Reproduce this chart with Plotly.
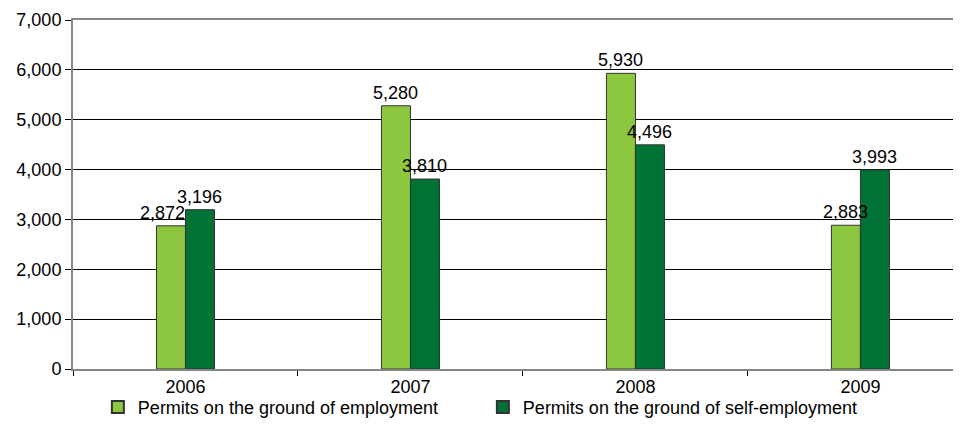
import plotly.graph_objects as go

years = ["2006", "2007", "2008", "2009"]
employment = [2872, 5280, 5930, 2883]
self_employment = [3196, 3810, 4496, 3993]
series_names = ["Permits on the ground of employment", "Permits on the ground of self-employment"]
y_ticks = [0, 1000, 2000, 3000, 4000, 5000, 6000, 7000]

font_family = "Liberation Sans, Arial, sans-serif"
fs = 18
half_bar_px = 14.5

fig = go.Figure()
fig.add_trace(go.Bar(
    x=years, y=employment, name=series_names[0],
    marker=dict(color="#8DC63F", line=dict(color="#333333", width=1)),
))
fig.add_trace(go.Bar(
    x=years, y=self_employment, name=series_names[1],
    marker=dict(color="#007236", line=dict(color="#333333", width=1)),
))

annotations = []
for i, (a, b) in enumerate(zip(employment, self_employment)):
    crowded = b > a and (b - a) < 600
    annotations.append(dict(
        x=i, y=a, xref="x", yref="y", text=f"{a:,}", showarrow=False,
        xanchor="right" if crowded else "center", yanchor="bottom",
        xshift=2 if crowded else -half_bar_px, yshift=1,
        font=dict(size=fs, color="black", family=font_family),
    ))
    annotations.append(dict(
        x=i, y=b, xref="x", yref="y", text=f"{b:,}", showarrow=False,
        xanchor="center", yanchor="bottom", xshift=half_bar_px, yshift=1,
        font=dict(size=fs, color="black", family=font_family),
    ))

fig.update_layout(
    width=953, height=422,
    margin=dict(l=65, r=0, t=12, b=61, autoexpand=False),
    plot_bgcolor="white", paper_bgcolor="white",
    barmode="group", bargap=0.742, bargroupgap=0,
    font=dict(family=font_family, size=fs, color="black"),
    showlegend=True,
    annotations=annotations,
    legend=dict(orientation="h", x=0.028, y=-0.11, xanchor="left", yanchor="middle",
                entrywidth=340, entrywidthmode="pixels", bgcolor="rgba(0,0,0,0)",
                font=dict(size=fs, color="black", family=font_family),
                itemsizing="constant"),
)
fig.update_xaxes(
    type="category", range=[-0.5, 3.447], showline=True, linecolor="#868686", linewidth=2, mirror=True,
    ticks="outside", tickson="boundaries", ticklen=5, tickcolor="#000000",
    showgrid=False, tickfont=dict(size=fs),
)
fig.update_yaxes(
    range=[0, 7000], tickvals=y_ticks, tickformat=",",
    showline=True, linecolor="#868686", linewidth=2,
    ticks="outside", ticklen=6, tickcolor="#000000",
    showgrid=True, gridcolor="#000000", gridwidth=1,
    zeroline=False, tickfont=dict(size=fs),
)

fig.write_html("out.html")
